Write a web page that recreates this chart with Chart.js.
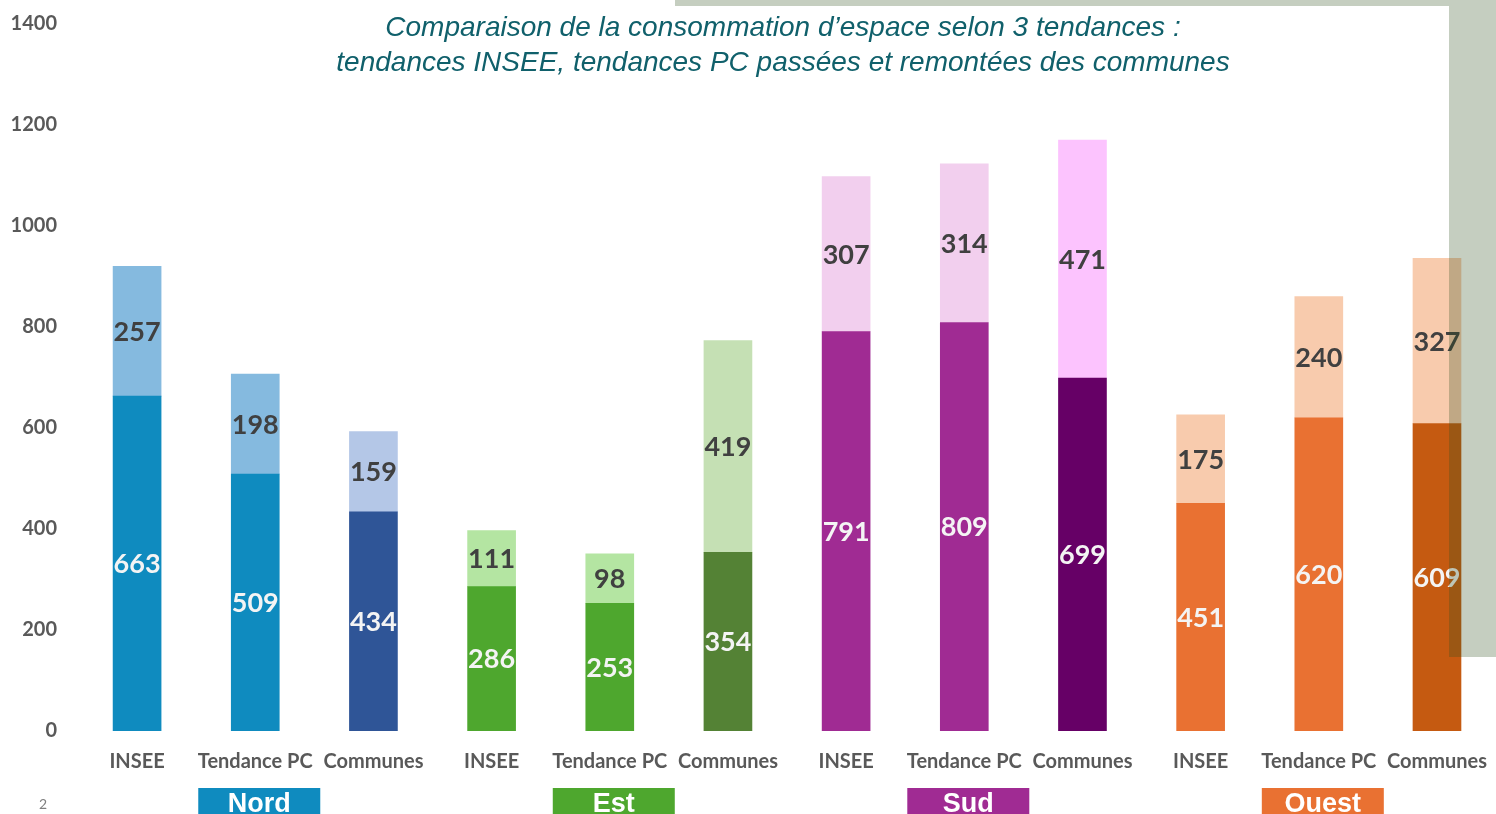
<!DOCTYPE html>
<html lang="fr">
<head>
<meta charset="utf-8">
<title>Consommation d'espace</title>
<script src="https://cdn.jsdelivr.net/npm/chart.js@4/dist/chart.umd.min.js"></script>
<style>
  html, body { margin: 0; padding: 0; background: #fff; overflow: hidden; }
  #wrap { position: relative; width: 1506px; height: 814px; }
  #chart { position: absolute; left: 0; top: 0; }
  .title {
    position: absolute; left: 283px; width: 1000px; text-align: center;
    font-family: "Liberation Sans", Arial, sans-serif; font-style: italic;
    font-size: 28px; color: #10606b; white-space: nowrap; line-height: 1;
  }
  .deco { position: absolute; background: rgba(48, 80, 27, 0.28); }
  #page-num {
    position: absolute; left: 39px; top: 795px;
    font-family: "Lato", sans-serif; font-size: 14px; color: #7f7f7f;
  }
</style>
</head>
<body>
<div id="wrap">
  <canvas id="chart" width="1506" height="814"></canvas>
  <div class="title" style="top: 13px;">Comparaison de la consommation d’espace selon 3 tendances :</div>
  <div class="title" style="top: 48px;">tendances INSEE, tendances PC passées et remontées des communes</div>
  <div class="deco" style="left: 675px; top: 0; width: 774px; height: 6px;"></div>
  <div class="deco" style="left: 1449px; top: 0; width: 57px; height: 657px;"></div>
  <div id="page-num">2</div>
</div>
<script>
const categories = [
  "INSEE", "Tendance PC", "Communes",
  "INSEE", "Tendance PC", "Communes",
  "INSEE", "Tendance PC", "Communes",
  "INSEE", "Tendance PC", "Communes",
];

const baseValues = [663, 509, 434, 286, 253, 354, 791, 809, 699, 451, 620, 609];
const extraValues = [257, 198, 159, 111, 98, 419, 307, 314, 471, 175, 240, 327];

const baseColors = [
  "#0f8bbf", "#0f8bbf", "#2f5597",
  "#4ea72e", "#4ea72e", "#548235",
  "#a02b93", "#a02b93", "#660066",
  "#e97132", "#e97132", "#c55a11",
];
const extraColors = [
  "#85badf", "#85badf", "#b4c7e7",
  "#b4e5a2", "#b4e5a2", "#c5e0b4",
  "#f2cfee", "#f2cfee", "#fcc3fe",
  "#f8cbad", "#f8cbad", "#f8cbad",
];

const groupNames = ["Nord", "Est", "Sud", "Ouest"];
const groupColors = ["#0f8bbf", "#4ea72e", "#a02b93", "#e97132"];
const groupMiddleIndex = [1, 4, 7, 10];

const yTicks = [0, 200, 400, 600, 800, 1000, 1200, 1400];

const barLabels = {
  id: "barLabels",
  afterDatasetsDraw(chart) {
    const { ctx } = chart;
    ctx.save();
    ctx.font = "bold 27px Lato, sans-serif";
    ctx.textAlign = "center";
    ctx.textBaseline = "middle";
    chart.data.datasets.forEach((dataset, datasetIndex) => {
      const meta = chart.getDatasetMeta(datasetIndex);
      ctx.fillStyle = dataset.labelColor;
      meta.data.forEach((bar, index) => {
        const centerY = (bar.y + bar.base) / 2;
        ctx.fillText(String(dataset.data[index]), bar.x, centerY + 1);
      });
    });
    ctx.restore();
  },
};

const groupBoxes = {
  id: "groupBoxes",
  afterDraw(chart) {
    const { ctx } = chart;
    const xScale = chart.scales.x;
    ctx.save();
    ctx.textAlign = "center";
    ctx.textBaseline = "top";
    ctx.font = "bold 27px 'Liberation Sans', Arial, sans-serif";
    groupNames.forEach((name, index) => {
      const center = xScale.getPixelForValue(groupMiddleIndex[index]) + 4;
      ctx.fillStyle = groupColors[index];
      ctx.fillRect(center - 61, 788, 122, 30);
      ctx.fillStyle = "#ffffff";
      ctx.fillText(name, center, 791);
    });
    ctx.restore();
  },
};

new Chart(document.querySelector("#chart"), {
  type: "bar",
  data: {
    labels: categories,
    datasets: [
      {
        label: "Base",
        data: baseValues,
        backgroundColor: baseColors,
        labelColor: "#f4f4f4",
        borderWidth: 0,
      },
      {
        label: "Supplément",
        data: extraValues,
        backgroundColor: extraColors,
        labelColor: "#404040",
        borderWidth: 0,
      },
    ],
  },
  options: {
    responsive: false,
    animation: false,
    events: [],
    layout: { padding: { top: 24, right: 0, left: 0, bottom: 0 } },
    datasets: {
      bar: { barThickness: 48 },
    },
    scales: {
      x: {
        stacked: true,
        grid: { display: false, drawTicks: false },
        border: { display: false },
        ticks: {
          color: "#595959",
          font: { family: "Lato", weight: "bold", size: 20 },
          padding: 19,
          maxRotation: 0,
          autoSkip: false,
        },
        afterFit(scale) {
          scale.height = 83;
        },
      },
      y: {
        stacked: true,
        min: 0,
        max: 1400,
        grid: { display: false, drawTicks: false },
        border: { display: false },
        afterBuildTicks(scale) {
          scale.ticks = yTicks.map((value) => ({ value }));
        },
        ticks: {
          color: "#595959",
          font: { family: "Lato", weight: "bold", size: 20 },
          padding: 21,
          callback: (value) => String(value),
        },
        afterFit(scale) {
          scale.width = 78;
          scale.paddingTop = 0;
          scale.paddingBottom = 0;
        },
      },
    },
    plugins: {
      legend: { display: false },
      tooltip: { enabled: false },
      title: { display: false },
    },
  },
  plugins: [barLabels, groupBoxes],
});
</script>
</body>
</html>
